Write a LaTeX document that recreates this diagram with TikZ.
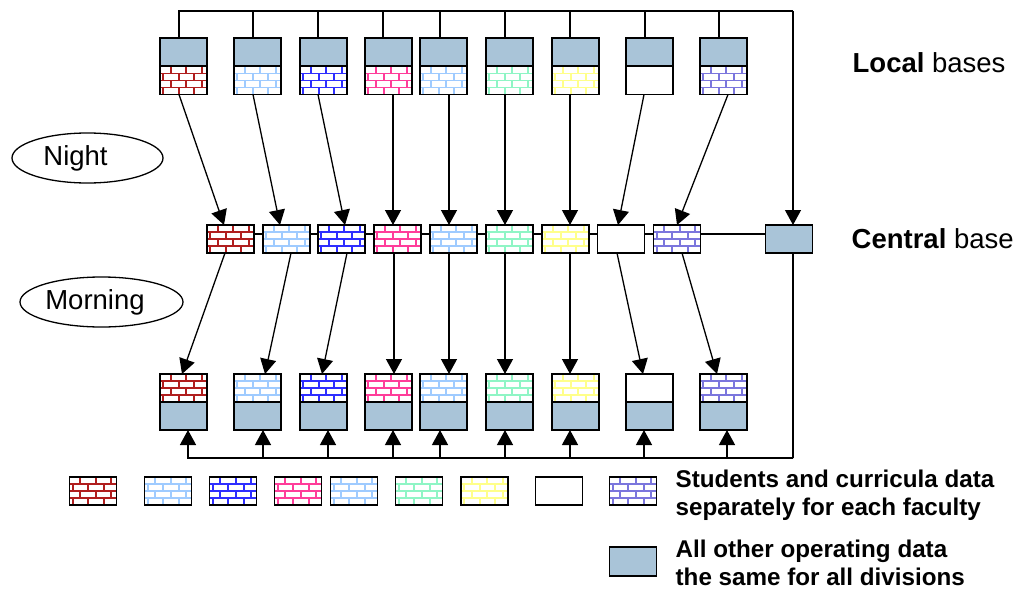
\documentclass[tikz,border=0pt]{standalone}
\usepackage{fontspec}
\setmainfont{Liberation Sans}
\usetikzlibrary{arrows.meta,shapes.geometric}
\definecolor{steel}{HTML}{A9C4D8}
\definecolor{bred}{HTML}{B01E1E}
\definecolor{blblue}{HTML}{9FCBFF}
\definecolor{bblue}{HTML}{2E2EFF}
\definecolor{bpink}{HTML}{FF3D9A}
\definecolor{bgreen}{HTML}{8FF5C5}
\definecolor{byellow}{HTML}{FFFF8A}
\definecolor{bpurple}{HTML}{7B76DD}
\tikzset{
  box/.style={draw, line width=1.5pt, minimum width=47pt, minimum height=28pt, inner sep=0pt, outer sep=0pt},
  opbox/.style={box, fill=steel},
  bbox/.style={box, fill=white},
  mortar/.style={line width=1.8pt},
  arr/.style={-{Triangle[length=15pt,width=16pt]}},
  bigtext/.style={font=\fontsize{27.5}{32}\selectfont},
  legtext/.style={anchor=west, inner sep=0pt, align=left, font=\fontsize{24.2}{28}\selectfont\bfseries},
  oval/.style={draw, ellipse, minimum height=50pt, inner sep=0pt, bigtext}
}
\newcommand\brickin[2]{%
  \begin{scope}
    \clip (#1.south west) rectangle (#1.north east);
    \begin{scope}[shift={(#1.north west)}]
      \foreach \k in {0,...,4}{
        \draw[mortar, draw=#2] (0,7*\k) -- (50,7*\k);
        \pgfmathsetmacro\off{10.7-7.5*mod(\k,2)}
        \foreach \j in {0,...,3}{
          \draw[mortar, draw=#2] (\off+15.5*\j,7*\k) -- ++(0,7);
        }
      }
    \end{scope}
  \end{scope}
  \draw[line width=1.5pt] (#1.south west) rectangle (#1.north east);
}
\begin{document}
\begin{tikzpicture}[x=1pt,y=-1pt,line width=1.3pt]
\useasboundingbox (0,0) rectangle (1019,594);

% top and bottom local bases
\foreach \i/\cx/\col in {1/183.5/bred,2/257.5/blblue,3/323.5/bblue,4/388.5/bpink,5/443.5/blblue,6/509.5/bgreen,7/575.5/byellow,8/649.5/white,9/723.5/bpurple}{
  \node[opbox] (tu\i) at (\cx,52) {};
  \node[bbox] (tb\i) at (\cx,80.5) {};
  \brickin{tb\i}{\col}
  \node[bbox] (bb\i) at (\cx,388) {};
  \brickin{bb\i}{\col}
  \node[opbox] (bu\i) at (\cx,416) {};
}

% central base
\foreach \i/\cx/\col in {1/230.5/bred,2/286.5/blblue,3/341.5/bblue,4/397.5/bpink,5/453.5/blblue,6/509.5/bgreen,7/565.5/byellow,8/621/white,9/677/bpurple}{
  \node[bbox] (c\i) at (\cx,239) {};
  \brickin{c\i}{\col}
}
\node[opbox] (cb) at (789,239) {};

\foreach \i [evaluate=\i as \j using int(\i+1)] in {1,...,8}{
  \draw ([yshift=5pt]c\i.east) -- ([yshift=5pt]c\j.west);
}
\draw ([yshift=5pt]c9.east) -- ([yshift=5pt]cb.west);

% top bus
\coordinate (tr) at (793,11);
\foreach \i/\s in {1/-4.5,2/-4.5,3/-5.5,4/-5.5,5/-3.5,6/-4.5,7/-5.5,8/-4.5,9/-4.5}{
  \draw ([xshift=\s pt]tu\i.north) |- (tr);
}
\draw[arr] (tr) -- (cb.north -| tr);

% local -> central
\foreach \i/\s/\e in {1/-4.5/-6.5,2/-4.5/-6.5,3/-5.5/3.5,4/4.5/-4.5,5/5.5/-4.5,6/-4.5/-4.5,7/-5.5/4.5,8/-5.5/-3,9/4.5/0}{
  \draw[arr] ([xshift=\s pt]tb\i.south) -- ([xshift=\e pt]c\i.north);
}

% central -> local
\foreach \i/\s/\e in {1/-5.5/-1.5,2/4.5/7.5,3/5.5/-1.5,4/-3.5/5.5,5/-4.5/5.5,6/-4.5/-4.5,7/4.5/-5.5,8/-4/-6.5,9/5/-6.5}{
  \draw[arr] ([xshift=\s pt]c\i.south) -- ([xshift=\e pt]bb\i.north);
}

% bottom bus
\coordinate (brr) at (793,458);
\draw (cb.south -| brr) -- (brr);
\foreach \i/\s in {1/4.5,2/5.5,3/4.5,4/4.5,5/-3.5,6/-4.5,7/-5.5,8/-5.5,9/3.5}{
  \draw[arr] (brr) -| ([xshift=\s pt]bu\i.south);
}

% ovals
\node[oval, minimum width=151pt] (night) at (87.5,158) {Night\hspace*{24pt}};
\node[oval, minimum width=163pt] (morning) at (101.5,302) {Morning\hspace*{13pt}};

% labels
\node[anchor=base west, inner sep=0pt, bigtext] (loc) at (852,72) {\textbf{Local} bases};
\node[anchor=base west, inner sep=0pt, bigtext] (cen) at (851,248) {\textbf{Central} base};

% legend
\foreach \i/\cx/\col in {1/93/bred,2/168/blblue,3/233/bblue,4/298/bpink,5/354/blblue,6/419/bgreen,7/484.5/byellow,8/559/white,9/633/bpurple}{
  \node[bbox] (l\i) at (\cx,491) {};
  \brickin{l\i}{\col}
}
\node[opbox, minimum height=29pt] (lop) at (633,561.5) {};
\node[legtext] (t1) at (675,495) {Students and curricula data\\separately for each faculty};
\node[legtext] (t2) at (675,563) {All other operating data\\the same for all divisions};
\end{tikzpicture}
\end{document}
